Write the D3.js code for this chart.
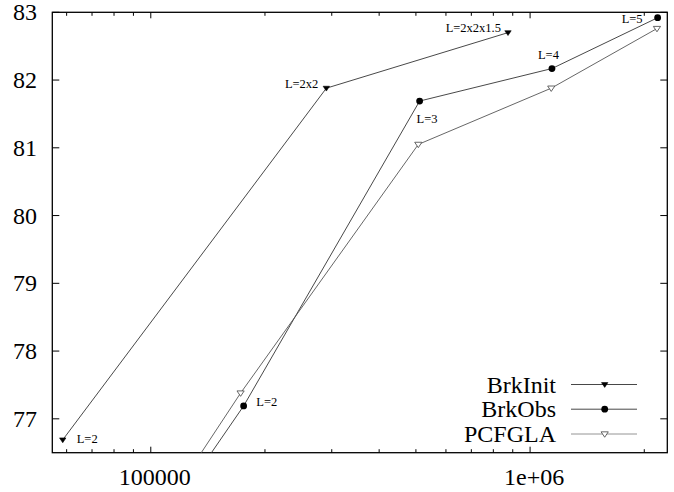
<!DOCTYPE html>
<html>
<head>
<script src="https://d3js.org/d3.v7.min.js"></script>
<style>
  body { margin: 0; background: #fff; }
  text { font-family: "Liberation Serif", "Times New Roman", serif; fill: #000; }
</style>
</head>
<body>
<script>
// series values (x is log scale)
// first point of BrkObs / PCFGLA sits below the visible range, only its line shows
const seriesNames = ["BrkInit", "BrkObs", "PCFGLA"];
const brkInitX = [58600, 290300, 874500];
const brkInitY = [76.69, 81.88, 82.70];
const brkInitLabels = ["L=2", "L=2x2", "L=2x2x1.5"];
const brkObsX = [100000, 175700, 511400, 1142000, 2169000];
const brkObsY = [75.20, 77.19, 81.69, 82.17, 82.92];
const brkObsLabels = ["", "L=2", "L=3", "L=4", "L=5"];
const pcfglaX = [100000, 172500, 507300, 1137000, 2160000];
const pcfglaY = [75.37, 77.38, 81.05, 81.88, 82.76];
const xTickLabels = ["100000", "1e+06"];
const yTicks = [77, 78, 79, 80, 81, 82, 83];

const width = 674, height = 492;
const pLeft = 52.3, pRight = 667.3, pTop = 12.3, pBottom = 452.7;

const svg = d3.select("body").append("svg")
    .attr("width", width)
    .attr("height", height);

const x = d3.scaleLog().domain([55000, 2300000]).range([pLeft, pRight]);
const y = d3.scaleLinear().domain([76.5, 83]).range([pBottom, pTop]);

svg.append("clipPath").attr("id", "plotclip")
  .append("rect")
    .attr("x", pLeft).attr("y", pTop)
    .attr("width", pRight - pLeft).attr("height", pBottom - pTop);

// ticks, mirrored on all sides, pointing inward
const xt = x.ticks().filter(d => d >= 55000 && d <= 2300000);
xt.forEach(function(d) {
    let major = Math.abs(Math.log10(d) - Math.round(Math.log10(d))) < 1e-9;
    let len = major ? 6 : 3.5;
    svg.append("line").attr("x1", x(d)).attr("x2", x(d)).attr("y1", pBottom).attr("y2", pBottom - len)
        .attr("stroke", "#000").attr("stroke-width", 1);
    svg.append("line").attr("x1", x(d)).attr("x2", x(d)).attr("y1", pTop).attr("y2", pTop + len)
        .attr("stroke", "#000").attr("stroke-width", 1);
});
[100000, 1000000].forEach(function(d, i) {
    svg.append("text")
        .attr("x", x(d) + 4).attr("y", 485)
        .attr("text-anchor", "middle")
        .style("font-size", "24px")
        .text(xTickLabels[i]);
});

yTicks.forEach(function(d) {
    svg.append("line").attr("x1", pLeft).attr("x2", pLeft + 7).attr("y1", y(d)).attr("y2", y(d))
        .attr("stroke", "#000").attr("stroke-width", 1);
    svg.append("line").attr("x1", pRight).attr("x2", pRight - 7).attr("y1", y(d)).attr("y2", y(d))
        .attr("stroke", "#000").attr("stroke-width", 1);
    svg.append("text")
        .attr("x", 37).attr("y", y(d) + 8)
        .attr("text-anchor", "end")
        .style("font-size", "24px")
        .text(d);
});

// frame
svg.append("rect")
    .attr("x", pLeft).attr("y", pTop)
    .attr("width", pRight - pLeft).attr("height", pBottom - pTop)
    .attr("fill", "none").attr("stroke", "#000").attr("stroke-width", 1.3);

// marker drawing
function downTri(g, cx, cy, s, filled) {
    g.append("path")
        .attr("d", "M" + (cx - s) + "," + (cy - s * 0.6) + "L" + (cx + s) + "," + (cy - s * 0.6) + "L" + cx + "," + (cy + s * 0.9) + "Z")
        .attr("fill", filled ? "#000" : "#fff")
        .attr("stroke", filled ? "#000" : "#555")
        .attr("stroke-width", filled ? 0.6 : 0.9);
}
function drawMarker(g, kind, cx, cy) {
    if (kind == 0) downTri(g, cx, cy, 3.2, true);
    else if (kind == 1) g.append("circle").attr("cx", cx).attr("cy", cy).attr("r", 3.4).attr("fill", "#000");
    else downTri(g, cx, cy, 3.6, false);
}

const allX = [brkInitX, brkObsX, pcfglaX];
const allY = [brkInitY, brkObsY, pcfglaY];
const lineColors = ["#333", "#333", "#555"];

const plot = svg.append("g").attr("clip-path", "url(#plotclip)");
const line = d3.line().x(d => x(d[0])).y(d => y(d[1]));

for (let s = 0; s < 3; s++) {
    let pts = allX[s].map((v, i) => [v, allY[s][i]]);
    plot.append("path")
        .datum(pts)
        .attr("d", line)
        .attr("fill", "none")
        .attr("stroke", lineColors[s])
        .attr("stroke-width", 0.9);
    pts.forEach(function(p) {
        drawMarker(plot, s, x(p[0]), y(p[1]));
    });
}

// point labels
function pointLabel(xv, yv, txt, dx, dy, anchor) {
    svg.append("text")
        .attr("x", x(xv) + dx).attr("y", y(yv) + dy)
        .attr("text-anchor", anchor)
        .style("font-size", "12.5px")
        .text(txt);
}
pointLabel(brkInitX[0], brkInitY[0], brkInitLabels[0], 14, 3, "start");
pointLabel(brkInitX[1], brkInitY[1], brkInitLabels[1], -8, 0, "end");
pointLabel(brkInitX[2], brkInitY[2], brkInitLabels[2], -7, -1, "end");
pointLabel(brkObsX[1], brkObsY[1], brkObsLabels[1], 12.7, 0, "start");
pointLabel(brkObsX[2], brkObsY[2], brkObsLabels[2], -3, 22, "start");
pointLabel(brkObsX[3], brkObsY[3], brkObsLabels[3], -3.5, -10, "middle");
pointLabel(brkObsX[4], brkObsY[4], brkObsLabels[4], -15, 5.5, "end");

// legend
const legY = [384.5, 409.2, 434];
seriesNames.forEach(function(name, i) {
    svg.append("text")
        .attr("x", 556).attr("y", legY[i] + 8)
        .attr("text-anchor", "end")
        .style("font-size", "24px")
        .text(name);
    svg.append("line")
        .attr("x1", 571).attr("x2", 637).attr("y1", legY[i]).attr("y2", legY[i])
        .attr("stroke", i == 2 ? "#888" : "#333").attr("stroke-width", 0.9);
    drawMarker(svg, i, 604.7, legY[i]);
});
</script>
</body>
</html>
